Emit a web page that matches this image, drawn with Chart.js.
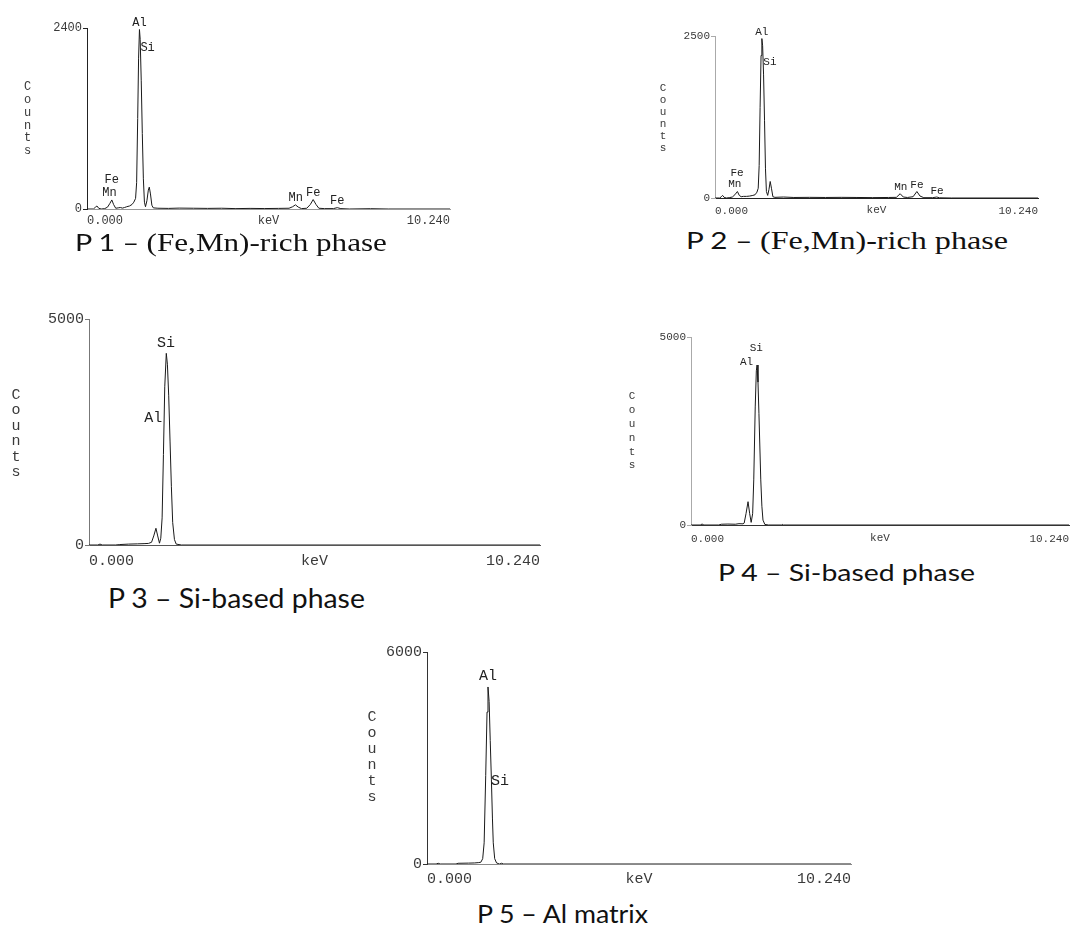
<!DOCTYPE html>
<html>
<head>
<meta charset="utf-8">
<script src="https://cdn.jsdelivr.net/npm/chart.js@4.4.1/dist/chart.umd.min.js"></script>
<style>
html,body{margin:0;padding:0;background:#fff;width:1070px;height:926px;overflow:hidden;position:relative;}
canvas{position:absolute;}
.cap{position:absolute;white-space:nowrap;line-height:1;transform-origin:0 50%;color:#111;font-family:Lato,"Open Sans",sans-serif;}
.serif{font-family:"Liberation Serif","Times New Roman",serif;}
.pg{margin-right:0.22em;}
</style>
</head>
<body>
<canvas id="c1"></canvas>
<canvas id="c2"></canvas>
<canvas id="c3"></canvas>
<canvas id="c4"></canvas>
<canvas id="c5"></canvas>

<div class="cap" id="t1" data-x="75" data-y="243" data-w="312" style="font-size:24px"><span class="pg">P</span>1 – <span class="serif" style="font-size:26px">(Fe,Mn)-rich phase</span></div>
<div class="cap" id="t2" data-x="686" data-y="241" data-w="322" style="font-size:24px"><span class="pg">P</span>2 – <span class="serif" style="font-size:26px">(Fe,Mn)-rich phase</span></div>
<div class="cap" id="t3" data-x="108" data-y="597" data-w="257" style="font-size:27px"><span class="pg">P</span>3 – Si-based phase</div>
<div class="cap" id="t4" data-x="718" data-y="572" data-w="257" style="font-size:24px"><span class="pg">P</span>4 – Si-based phase</div>
<div class="cap" id="t5" data-x="477" data-y="913" data-w="171" style="font-size:25px"><span class="pg">P</span>5 – Al matrix</div>

<script>
// ---------- shared text ----------
const xTickLabels = ['0.000', '10.240'];
const xTitle = 'keV';
const yTitle = 'Counts';

// ---------- P1 ----------
const p1Kev    = [0.00,0.18,0.24,0.28,0.33,0.40,0.50,0.58,0.64,0.70,0.75,0.81,0.88,0.94,1.00,1.06,1.12,1.20,1.27,1.32,1.37,1.40,1.43,1.455,1.48,1.50,1.53,1.56,1.59,1.62,1.65,1.69,1.73,1.757,1.79,1.83,1.87,2.00,2.30,2.60,3.00,3.40,3.80,4.20,4.60,5.00,5.40,5.70,5.80,5.88,5.96,6.05,6.20,6.30,6.38,6.46,6.54,6.70,6.95,7.06,7.16,7.40,8.00,8.50,10.24];
const p1Counts = [0,0,25,40,10,0,5,25,70,120,60,10,15,20,12,20,30,40,60,90,140,350,1200,2000,2380,2250,1700,1000,400,90,30,110,250,290,200,50,15,10,8,12,10,8,10,5,8,6,8,10,30,55,25,5,10,60,125,60,10,5,5,18,5,0,4,0,0];
const p1YTicks = ['0', '2400'];
const p1Max = 2400;
const p1PeakText   = ['Al','Si','Fe','Mn','Mn','Fe','Fe'];
const p1PeakKev    = [1.483,1.71,0.70,0.636,5.89,6.38,7.06];
const p1PeakCounts = [2470,2135,385,208,142,208,106];

// ---------- P2 ----------
const p2Kev    = [0.00,0.15,0.20,0.24,0.29,0.36,0.45,0.55,0.63,0.71,0.77,0.83,0.90,1.00,1.10,1.20,1.27,1.33,1.37,1.40,1.43,1.46,1.486,1.51,1.54,1.57,1.60,1.63,1.67,1.71,1.75,1.79,1.835,1.90,2.17,2.50,3.00,3.50,4.00,4.50,5.00,5.50,5.75,5.87,5.97,6.10,6.28,6.40,6.50,6.62,6.90,7.03,7.12,7.50,10.24];
const p2Counts = [0,0,20,40,10,0,5,15,50,100,40,20,25,25,30,40,50,90,150,500,1400,2200,2460,2350,1900,1200,450,100,40,130,255,150,20,10,15,8,10,8,10,8,6,8,10,66,15,8,20,100,30,5,5,15,3,0,0];
const p2YTicks = ['0', '2500'];
const p2Max = 2500;
const p2PeakText   = ['Al','Si','Fe','Mn','Mn','Fe','Fe'];
const p2PeakKev    = [1.485,1.74,0.70,0.63,5.89,6.40,7.04];
const p2PeakCounts = [2561,2104,377,208,161,192,100];

// ---------- P3 ----------
const p3Kev    = [0.00,0.20,0.25,0.30,0.60,0.70,0.90,1.10,1.25,1.35,1.42,1.47,1.52,1.56,1.60,1.63,1.66,1.69,1.72,1.755,1.78,1.81,1.84,1.87,1.90,1.94,1.98,2.10,10.24];
const p3Counts = [0,0,20,0,0,10,20,25,30,35,60,200,370,200,40,150,600,2000,3500,4240,4000,3300,2300,1300,500,120,20,0,0];
const p3YTicks = ['0', '5000'];
const p3Max = 5000;
const p3PeakText   = ['Si','Al'];
const p3PeakKev    = [1.75,1.46];
const p3PeakCounts = [4462,2803];

// ---------- P4 ----------
const p4Kev    = [0.00,0.25,0.30,0.35,0.75,0.82,1.00,1.20,1.30,1.41,1.44,1.49,1.545,1.59,1.63,1.67,1.70,1.74,1.77,1.79,1.815,1.84,1.89,1.92,1.95,2.00,2.10,2.45,2.47,2.50,10.24];
const p4Counts = [0,0,25,0,0,20,25,20,35,30,50,300,620,300,70,300,1200,3140,4100,4255,3800,2970,1200,500,130,15,0,0,15,0,0];
const p4YTicks = ['0', '5000'];
const p4Max = 5000;
const p4PeakText   = ['Si','Al'];
const p4PeakKev    = [1.77,1.505];
const p4PeakCounts = [4700,4344];

// ---------- P5 ----------
const p5Kev    = [0.00,0.22,0.27,0.32,0.70,0.75,1.00,1.15,1.25,1.30,1.345,1.38,1.418,1.45,1.473,1.50,1.527,1.555,1.58,1.60,1.635,1.68,1.75,1.80,1.85,10.24];
const p5Counts = [0,0,20,0,0,20,25,30,40,50,150,600,2500,4300,5010,4600,3500,2400,1300,600,150,30,0,20,0,0];
const p5YTicks = ['0', '6000'];
const p5Max = 6000;
const p5PeakText   = ['Al','Si'];
const p5PeakKev    = [1.473,1.763];
const p5PeakCounts = [5321,2335];

// ---------- layout / style ----------
const MONO = '"Liberation Mono","DejaVu Sans Mono",monospace';
const TXT = '#3a3a3a';
const YW = 90, PT = 30, PR = 8;

const panels = [
  {id:'c1', kev:p1Kev, counts:p1Counts, max:p1Max, yTicks:p1YTicks, pk:[p1PeakText,p1PeakKev,p1PeakCounts],
   area:{l:87,t:28,r:450,b:209}, f:12, pad:5, yCol:'#222', xCol:'#999', cnt:{x:27.5,y:86.7,step:12.9}},
  {id:'c2', kev:p2Kev, counts:p2Counts, max:p2Max, yTicks:p2YTicks, pk:[p2PeakText,p2PeakKev,p2PeakCounts],
   area:{l:715,t:36,r:1038,b:198}, f:11, pad:6, yCol:'#aaa', xCol:'#222', cnt:{x:663,y:88.3,step:11.9}},
  {id:'c3', kev:p3Kev, counts:p3Counts, max:p3Max, yTicks:p3YTicks, pk:[p3PeakText,p3PeakKev,p3PeakCounts],
   area:{l:89,t:319,r:540,b:545}, f:15, pad:7, yCol:'#777', xCol:'#555', cnt:{x:16,y:395,step:15.5}},
  {id:'c4', kev:p4Kev, counts:p4Counts, max:p4Max, yTicks:p4YTicks, pk:[p4PeakText,p4PeakKev,p4PeakCounts],
   area:{l:691,t:337,r:1069,b:525}, f:11, pad:7, yCol:'#aaa', xCol:'#333', cnt:{x:632,y:396,step:13.9}},
  {id:'c5', kev:p5Kev, counts:p5Counts, max:p5Max, yTicks:p5YTicks, pk:[p5PeakText,p5PeakKev,p5PeakCounts],
   area:{l:427,t:652,r:851,b:864}, f:15, pad:6, yCol:'#333', xCol:'#888', cnt:{x:372,y:717,step:16}}
];

function makePanel(p) {
  const lh = Math.round(p.f * 1.2);
  const H = p.pad + lh + 2;
  const cv = document.getElementById(p.id);
  const left = p.area.l - YW, top = p.area.t - PT;
  const w = (p.area.r - p.area.l) + YW + PR;
  const h = (p.area.b - p.area.t) + PT + H + 4;
  cv.width = w; cv.height = h;
  cv.style.left = left + 'px'; cv.style.top = top + 'px';
  cv.style.width = w + 'px'; cv.style.height = h + 'px';

  const labelPlugin = {
    id: 'peakLabels' + p.id,
    afterDraw(chart) {
      const ctx = chart.ctx, xs = chart.scales.x, ys = chart.scales.y;
      ctx.save();
      ctx.fillStyle = '#222';
      ctx.font = p.f + 'px ' + MONO;
      ctx.textAlign = 'center';
      ctx.textBaseline = 'middle';
      const [txt, kv, ct] = p.pk;
      for (let i = 0; i < txt.length; i++) {
        ctx.fillText(txt[i], xs.getPixelForValue(kv[i]), ys.getPixelForValue(ct[i]));
      }
      ctx.fillStyle = TXT;
      for (let i = 0; i < yTitle.length; i++) {
        ctx.fillText(yTitle[i], p.cnt.x - left, p.cnt.y + i * p.cnt.step - top);
      }
      ctx.restore();
    }
  };

  new Chart(cv, {
    type: 'line',
    data: {
      datasets: [{
        data: p.kev.map((x, i) => ({x: x, y: p.counts[i]})),
        borderColor: '#1a1a1a', borderWidth: 1, pointRadius: 0, tension: 0, fill: false
      }]
    },
    options: {
      responsive: false, animation: false, devicePixelRatio: 1,
      layout: {padding: {left: 0, top: PT, right: PR, bottom: 4}},
      plugins: {legend: {display: false}, tooltip: {enabled: false}},
      scales: {
        x: {
          type: 'linear', min: 0, max: 10.24,
          afterBuildTicks: s => { s.ticks = [{value: 0}, {value: 10.24}]; },
          afterFit: s => { s.height = H; },
          ticks: {callback: (v, i) => xTickLabels[i], align: 'inner', maxRotation: 0, autoSkip: false,
                  font: {family: MONO, size: p.f}, color: TXT, padding: p.pad},
          grid: {display: false, drawTicks: false, tickLength: 0},
          border: {display: true, color: p.xCol, width: 1},
          title: {display: true, text: xTitle, font: {family: MONO, size: p.f}, color: TXT,
                  padding: {top: 0, bottom: 2}}
        },
        y: {
          type: 'linear', min: 0, max: p.max,
          afterBuildTicks: s => { s.ticks = [{value: 0}, {value: p.max}]; },
          afterFit: s => { s.width = YW; },
          ticks: {callback: (v, i) => p.yTicks[i], font: {family: MONO, size: p.f}, color: TXT, padding: 1},
          grid: {display: true, drawOnChartArea: false, drawTicks: true, tickLength: 4, color: p.yCol},
          border: {display: true, color: p.yCol, width: 1}
        }
      }
    },
    plugins: [labelPlugin]
  });
}

panels.forEach(makePanel);

// captions: place and stretch horizontally to the measured width
document.querySelectorAll('.cap').forEach(el => {
  el.style.left = el.dataset.x + 'px';
  el.style.top = el.dataset.y + 'px';
  const w = el.getBoundingClientRect().width;
  const s = parseFloat(el.dataset.w) / w;
  el.style.transform = 'translateY(-50%) scaleX(' + s.toFixed(3) + ')';
});
</script>
</body>
</html>
